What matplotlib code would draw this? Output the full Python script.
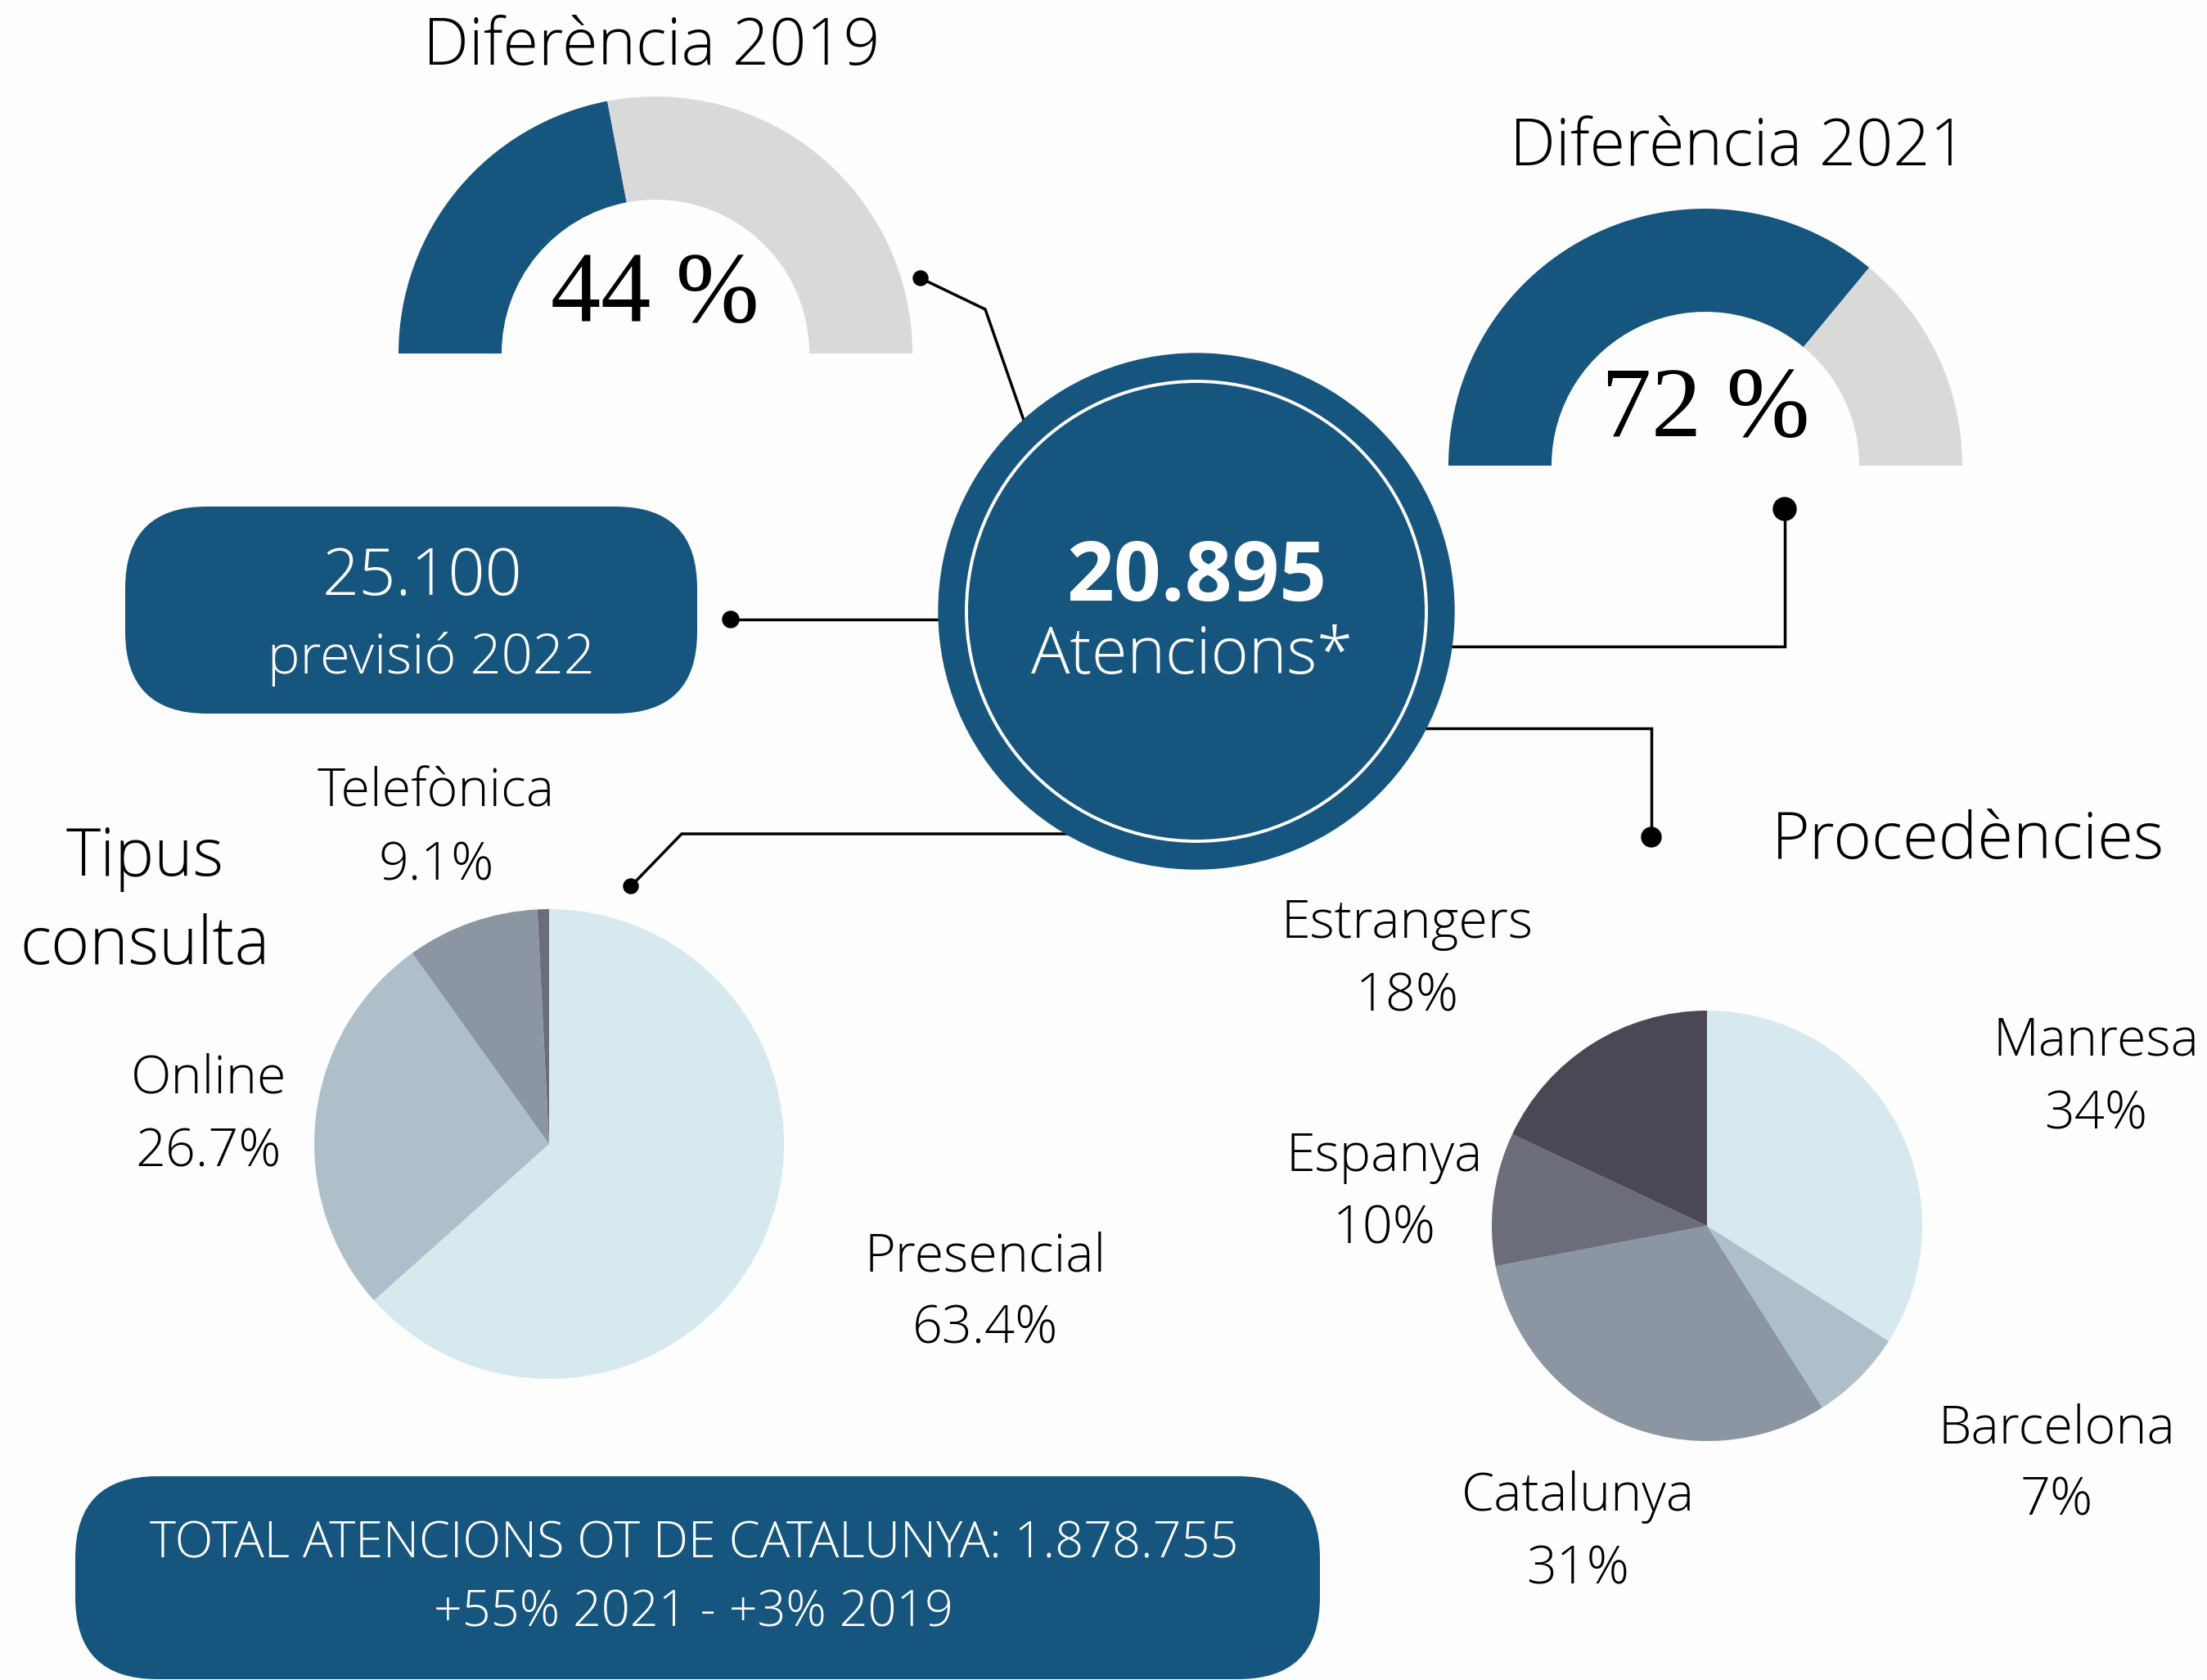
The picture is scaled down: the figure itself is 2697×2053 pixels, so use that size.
import matplotlib
matplotlib.use('Agg')
import matplotlib.pyplot as plt
from matplotlib.patches import Circle, FancyBboxPatch

plt.rcParams['font.family'] = ['Open Sans', 'DejaVu Sans']

# --- data ---
total_atencions = '20.895'
previsio_value = '25.100'
gauge_titles = ['Diferència 2019', 'Diferència 2021']
gauge_values = [44, 72]

tipus_labels = ['Presencial', 'Online', 'Telefònica', '']
tipus_values = [63.4, 26.7, 9.1, 0.8]

proc_labels = ['Manresa', 'Barcelona', 'Catalunya', 'Espanya', 'Estrangers']
proc_values = [34, 7, 31, 10, 18]

footer_lines = ['TOTAL ATENCIONS OT DE CATALUNYA: 1.878.755',
                '+55% 2021 - +3% 2019']

# --- style ---
W, H = 2697, 2053
BLUE = '#16557e'
GREY = '#d9d9d9'
BG = '#fdfdfd'
PIE_COLORS = ['#d5e9ef', '#aebfca', '#8c96a2', '#6b6d7a', '#4c4754']
LINE_W = 2.5
LABEL_FS = 46.5


def fy(v):
    # picture rows (top-down) to axis y (bottom-up)
    return H - v


fig = plt.figure(figsize=(W / 100, H / 100), dpi=100, facecolor=BG)
ax = fig.add_axes([0, 0, 1, 1])
ax.set_facecolor(BG)

# connector lines (under the big circle)
connectors = [
    [(1125, 340), (1204, 378), (1262, 545)],
    [(893, 757), (1200, 757)],
    [(1700, 790), (2181, 790), (2181, 622)],
    [(1700, 890), (2018, 890), (2018, 1023)],
    [(771, 1083), (833, 1019), (1350, 1019)],
]
for pts in connectors:
    ax.plot([p[0] for p in pts], [fy(p[1]) for p in pts], color='black',
            lw=LINE_W, solid_joinstyle='miter', zorder=1)
dots = [((1125, 340), 9), ((893, 757), 10), ((2181, 622), 14),
        ((2018, 1023), 12), ((771, 1083), 9)]
for (x, y), r in dots:
    ax.add_patch(Circle((x, fy(y)), r, color='black', zorder=2))

# central circle
cx, cy = 1462, 747
ax.add_patch(Circle((cx, fy(cy)), 315, color=BLUE, zorder=3))
ax.add_patch(Circle((cx, fy(cy)), 281, fill=False, edgecolor='white', lw=2.8, zorder=4))
ax.text(1462, fy(734), total_atencions, color='white', fontsize=73, fontweight='bold',
        ha='center', va='baseline', zorder=5)
ax.text(1456, fy(823), 'Atencions*', color='white', fontsize=57, fontweight='light',
        ha='center', va='baseline', zorder=5)

# gauges
gauge_pos = [(801, 432), (2084, 569)]
title_pos = [(796, 79), (2124, 202)]
value_pos = [(800, 393), (2084, 533)]
for i, val in enumerate(gauge_values):
    gx, gy = gauge_pos[i]
    ax.pie([val, 100 - val, 100], center=(gx, fy(gy)), radius=314, startangle=180,
           counterclock=False, colors=[BLUE, GREY, 'none'],
           wedgeprops=dict(width=126, linewidth=0), frame=True)
    ax.text(title_pos[i][0], fy(title_pos[i][1]), gauge_titles[i], fontsize=57,
            fontweight='light', ha='center', va='baseline')
    ax.text(value_pos[i][0], fy(value_pos[i][1]), f'{val} %', fontsize=88,
            family='Liberation Serif', ha='center', va='baseline')

# previsio box
ax.add_patch(FancyBboxPatch((153, fy(872)), 852 - 153, 872 - 619,
                            boxstyle='round,pad=0,rounding_size=100',
                            facecolor=BLUE, edgecolor='none', zorder=3))
ax.text(516, fy(727), previsio_value, color='white', fontsize=57, fontweight='light',
        ha='center', va='baseline', zorder=5)
ax.text(527, fy(823), 'previsió 2022', color='white', fontsize=48, fontweight='light',
        ha='center', va='baseline', zorder=5)

# pie: tipus consulta
ax.pie(tipus_values, center=(671, fy(1398)), radius=287, startangle=90,
       counterclock=False, colors=PIE_COLORS[:4], wedgeprops=dict(linewidth=0),
       frame=True)
ax.text(177, fy(1070), 'Tipus', fontsize=58, fontweight='light', ha='center', va='baseline')
ax.text(177, fy(1178), 'consulta', fontsize=58, fontweight='light', ha='center', va='baseline')
tipus_lab_pos = [(1204, 1553), (255, 1336), (533, 986)]
for (x, y), name, v in zip(tipus_lab_pos, tipus_labels, tipus_values):
    ax.text(x, fy(y), name, fontsize=LABEL_FS, fontweight='light', ha='center', va='baseline')
    ax.text(x, fy(y + 89), f'{v:g}%', fontsize=LABEL_FS, fontweight='light',
            ha='center', va='baseline')

# pie: procedencies
ax.pie(proc_values, center=(2086, fy(1498)), radius=263, startangle=90,
       counterclock=False, colors=PIE_COLORS, wedgeprops=dict(linewidth=0),
       frame=True)
ax.text(2405, fy(1049), 'Procedències', fontsize=57.5, fontweight='light',
        ha='center', va='baseline')
proc_lab_pos = [(2561, 1290), (2513, 1763), (1928, 1846), (1692, 1431), (1720, 1146)]
for (x, y), name, v in zip(proc_lab_pos, proc_labels, proc_values):
    ax.text(x, fy(y), name, fontsize=LABEL_FS, fontweight='light', ha='center', va='baseline')
    ax.text(x, fy(y + 89), f'{v}%', fontsize=LABEL_FS, fontweight='light',
            ha='center', va='baseline')

# footer box
ax.add_patch(FancyBboxPatch((92, fy(2052)), 1613 - 92, 2052 - 1804,
                            boxstyle='round,pad=0,rounding_size=100',
                            facecolor=BLUE, edgecolor='none', zorder=3))
ax.text(848, fy(1904), footer_lines[0], color='white', fontsize=44, fontweight='light',
        ha='center', va='baseline', zorder=5)
ax.text(848, fy(1988), footer_lines[1], color='white', fontsize=44, fontweight='light',
        ha='center', va='baseline', zorder=5)

ax.set_xlim(0, W)
ax.set_ylim(0, H)
ax.set_aspect('auto')
ax.axis('off')

fig.savefig('out.png', dpi=100, facecolor=BG)
